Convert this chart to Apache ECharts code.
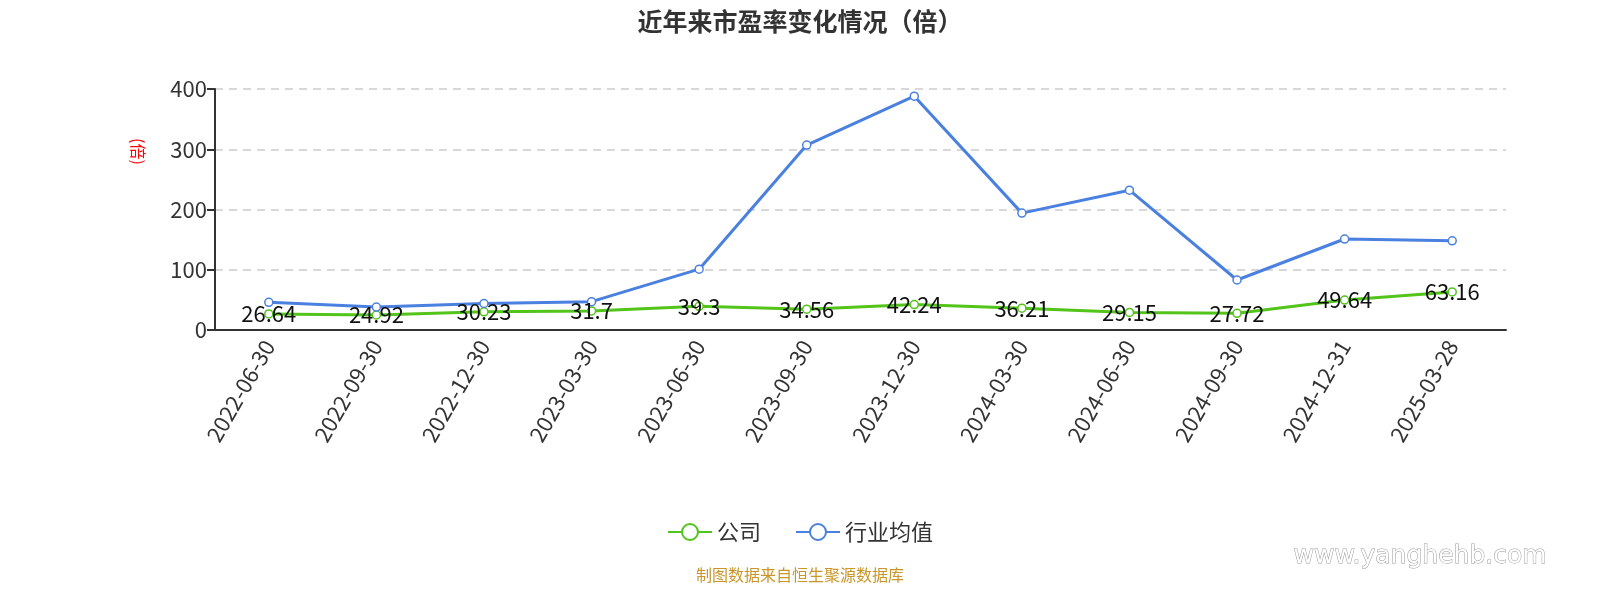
<!DOCTYPE html>
<html><head><meta charset="utf-8">
<script src="https://cdn.jsdelivr.net/npm/echarts@6/dist/echarts.min.js"></script>
<style>html,body{margin:0;padding:0;background:#fff}#c{width:1600px;height:600px}</style>
</head><body><div id="c"></div>
<script>
const categories=["2022-06-30","2022-09-30","2022-12-30","2023-03-30","2023-06-30","2023-09-30","2023-12-30","2024-03-30","2024-06-30","2024-09-30","2024-12-31","2025-03-28"];
const companyPE=[26.64,24.92,30.23,31.7,39.3,34.56,42.24,36.21,29.15,27.72,49.64,63.16];
const industryPE=[46,38,44,47,101,307,388,194,232,83,151,148];
const yTicks=[0,100,200,300,400];
const F='Noto Sans CJK SC';
const chart=echarts.init(document.getElementById('c'));
chart.setOption({
  animation:false,
  textStyle:{fontFamily:F},
  title:{text:'近年来市盈率变化情况（倍）',left:'center',top:4,textStyle:{fontSize:25,fontWeight:'bold',color:'#333',fontFamily:F}},
  grid:{left:215,right:94,top:89,bottom:270},
  legend:{bottom:52,itemWidth:44,itemHeight:20,itemGap:34,textStyle:{fontSize:22,color:'#333',fontFamily:F},data:['公司','行业均值']},
  xAxis:{type:'category',data:categories,boundaryGap:true,
    axisLine:{lineStyle:{color:'#333',width:2}},axisTick:{length:8,lineStyle:{color:'#333',width:2}},
    axisLabel:{rotate:60,fontSize:22,color:'#333',interval:0,margin:12,fontFamily:F}},
  yAxis:{type:'value',min:yTicks[0],max:yTicks[yTicks.length-1],interval:100,
    axisLine:{show:true,lineStyle:{color:'#333',width:2}},axisTick:{show:true,length:8,lineStyle:{color:'#333',width:2}},
    axisLabel:{fontSize:22,color:'#333',fontFamily:F},
    splitLine:{lineStyle:{type:[8,6],color:'#ccc',width:1.5}}},
  series:[
    {name:'公司',type:'line',data:companyPE,color:'#52c41a',symbol:'circle',symbolSize:8,
     itemStyle:{color:'#fff',borderColor:'#52c41a',borderWidth:1.5},lineStyle:{width:3,color:'#52c41a'},
     label:{show:true,position:'inside',fontSize:22,color:'#111',fontFamily:F}},
    {name:'行业均值',type:'line',data:industryPE,color:'#4a80e0',symbol:'circle',symbolSize:8,
     itemStyle:{color:'#fff',borderColor:'#4a80e0',borderWidth:1.5},lineStyle:{width:3,color:'#4a80e0'}}
  ],
  graphic:[
    {type:'text',x:146,y:138,rotation:-Math.PI/2,style:{text:'(倍)',fontSize:16,fill:'red',fontFamily:F}},
    {type:'text',left:'center',top:567,style:{text:'制图数据来自恒生聚源数据库',fontSize:16,fill:'#c8962a',fontFamily:F}},
    {type:'text',left:1293,top:543,style:{text:'www.yanghehb.com',fontSize:25,fill:'#fff',stroke:'#999',lineWidth:1,fontFamily:'DejaVu Sans',letterSpacing:3}}
  ]
});
</script></body></html>
